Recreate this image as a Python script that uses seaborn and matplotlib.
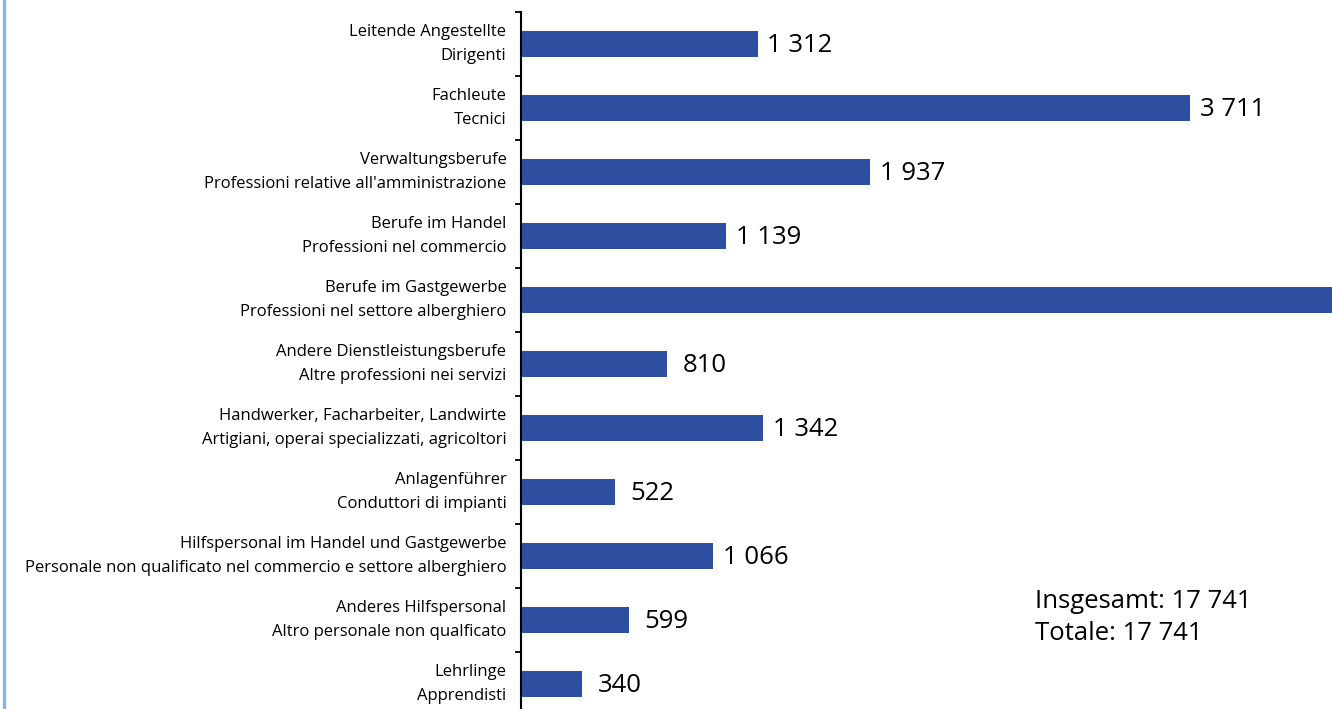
import matplotlib
matplotlib.use("Agg")
import matplotlib.pyplot as plt
import seaborn as sns
import numpy as np
import pandas as pd
from matplotlib.lines import Line2D

# Berufsgruppen / gruppi professionali
berufe_de = ["Leitende Angestellte", "Fachleute", "Verwaltungsberufe", "Berufe im Handel",
             "Berufe im Gastgewerbe", "Andere Dienstleistungsberufe",
             "Handwerker, Facharbeiter, Landwirte", "Anlagenführer",
             "Hilfspersonal im Handel und Gastgewerbe", "Anderes Hilfspersonal", "Lehrlinge"]
berufe_it = ["Dirigenti", "Tecnici", "Professioni relative all'amministrazione",
             "Professioni nel commercio", "Professioni nel settore alberghiero",
             "Altre professioni nei servizi", "Artigiani, operai specializzati, agricoltori",
             "Conduttori di impianti",
             "Personale non qualificato nel commercio e settore alberghiero",
             "Altro personale non qualficato", "Apprendisti"]
werte = [1312, 3711, 1937, 1139, 4963, 810, 1342, 522, 1066, 599, 340]
total = 17741

def fmt(v):
    return f"{v:,}".replace(",", " ")

df = pd.DataFrame({"label": [d + "\n" + i for d, i in zip(berufe_de, berufe_it)],
                   "wert": werte})

plt.rcParams['font.family'] = ['Open Sans', 'DejaVu Sans']

fig = plt.figure(figsize=(13.32, 7.09), dpi=100)
ax = fig.add_axes([521 / 1332, -7 / 709, 901.5 / 1332, 704 / 709])

sns.barplot(data=df, x="wert", y="label", orient="h", color="#2E4FA0",
            saturation=1, width=0.41, ax=ax)
ax.set_xlim(0, 5000)
ax.set_ylim(10.5, -0.5)
ax.set_xlabel("")
ax.set_ylabel("")

for s in ["top", "right", "bottom"]:
    ax.spines[s].set_visible(False)
ax.spines["left"].set_linewidth(1.5)
ax.spines["left"].set_color("black")
ax.set_xticks([])
ax.set_yticks(np.arange(-0.5, 11, 1), minor=True)
ax.tick_params(axis="y", which="minor", length=4.5, width=1.3, direction="out")
ax.tick_params(axis="y", which="major", length=0, pad=10.5, labelsize=12)
for t in ax.get_yticklabels():
    t.set_linespacing(1.62)
    t.set_verticalalignment("center")

# Werte rechts vom Balken (der abgeschnittene Balken bekommt keinen sichtbaren Wert)
xmax = ax.get_xlim()[1]
for p, v in zip(ax.patches, werte):
    if v > xmax * 0.95:
        continue
    off = 7 if v >= 1000 else 11
    ax.annotate(fmt(v), (p.get_width(), p.get_y() + p.get_height() / 2),
                xytext=(off, -1), textcoords="offset points",
                va="center", ha="left", fontsize=18.5)

fig.text(1035 / 1332, 1 - 602 / 709, f"Insgesamt: {fmt(total)}", fontsize=18.5, va="center")
fig.text(1035 / 1332, 1 - 634 / 709, f"Totale: {fmt(total)}", fontsize=18.5, va="center")

fig.add_artist(Line2D([0.0028, 0.0028], [0, 1], color="#8DB3E2", linewidth=2.5,
                      transform=fig.transFigure))

fig.savefig("out.png", dpi=100)
